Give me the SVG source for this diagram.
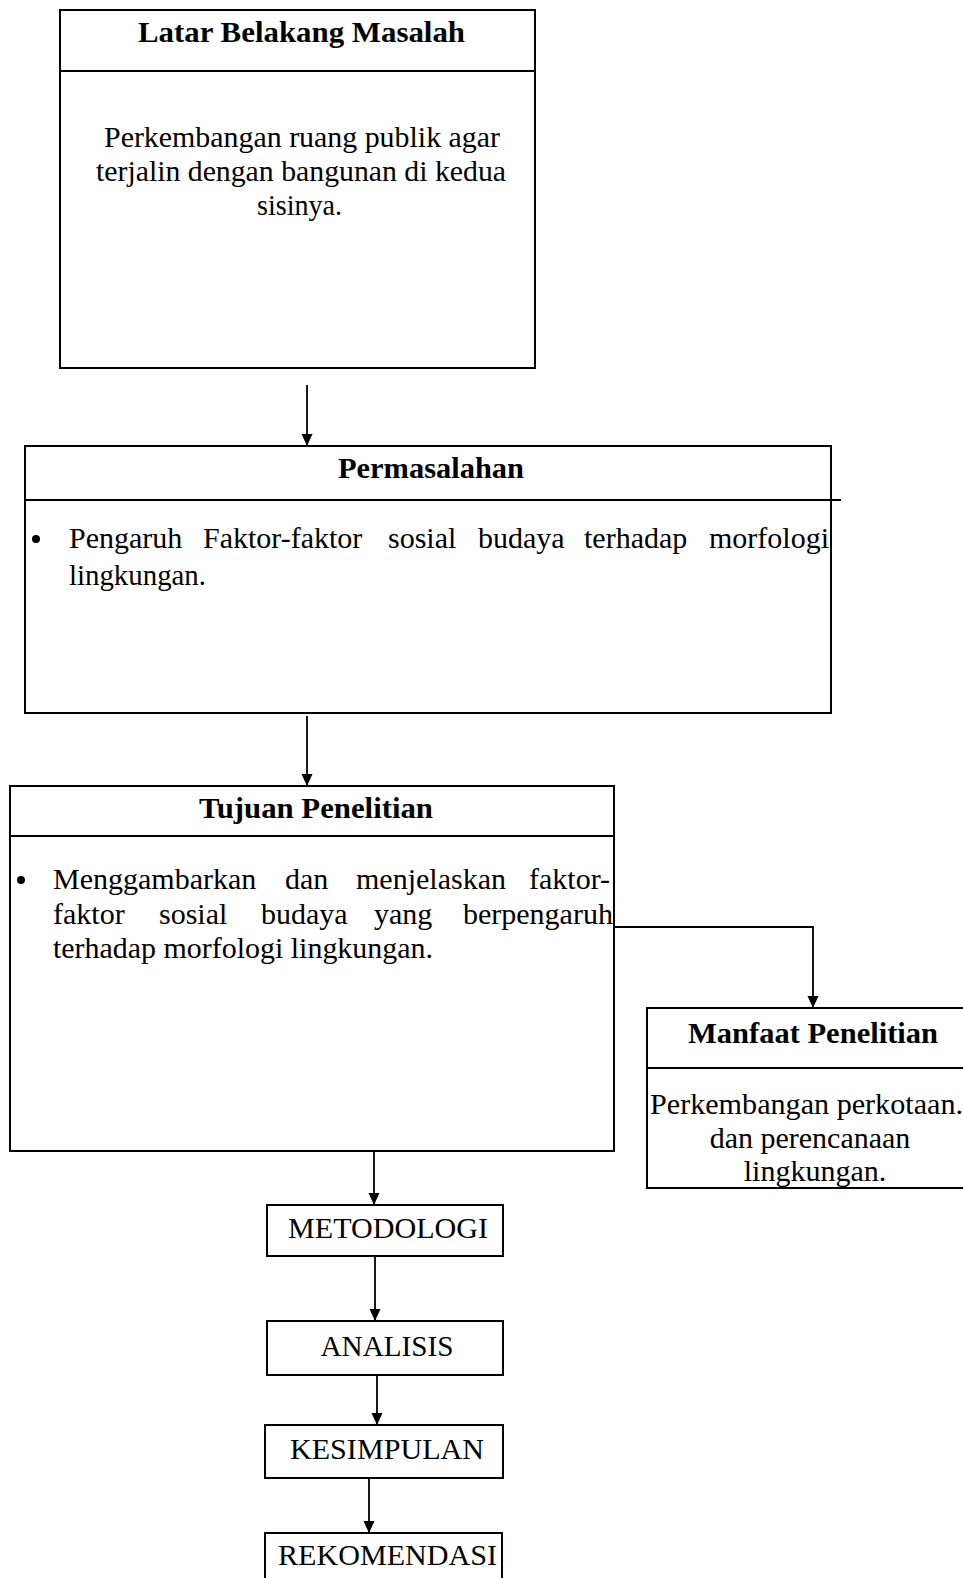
<svg xmlns="http://www.w3.org/2000/svg" width="963" height="1578" viewBox="0 0 963 1578">
<style>
.box{fill:none;stroke:#000;stroke-width:2}
.ln{fill:none;stroke:#000;stroke-width:2}
.cn{fill:none;stroke:#000;stroke-width:1.8}
.t{font-family:"Liberation Serif","Times New Roman",serif;font-size:30px;fill:#000}
.h{font-weight:bold;font-size:29px}
.m{text-anchor:middle}
</style>
<defs>
<marker id="ah" markerUnits="userSpaceOnUse" markerWidth="13" markerHeight="12" refX="12" refY="5.5" orient="auto">
<path d="M0,0 L12,5.5 L0,11 z" fill="#000"/>
</marker>
</defs>
<rect width="963" height="1578" fill="#fff"/>
<g id="connectors">
<path class="cn" d="M307,385 V446" marker-end="url(#ah)"/>
<path class="cn" d="M307,716 V786" marker-end="url(#ah)"/>
<path class="cn" d="M614,927 H813 V1008" marker-end="url(#ah)"/>
<path class="cn" d="M374,1151 V1205" marker-end="url(#ah)"/>
<path class="cn" d="M375,1256 V1321" marker-end="url(#ah)"/>
<path class="cn" d="M377,1375 V1425" marker-end="url(#ah)"/>
<path class="cn" d="M369,1478 V1533" marker-end="url(#ah)"/>
</g>
<g id="latar">
<rect class="box" x="60" y="10" width="475" height="358"/>
<line class="ln" x1="60" y1="71" x2="535" y2="71"/>
<text class="t h m" x="301.5" y="42" textLength="327" lengthAdjust="spacingAndGlyphs">Latar Belakang Masalah</text>
<text class="t m" x="302" y="147" textLength="396" lengthAdjust="spacingAndGlyphs">Perkembangan ruang publik agar</text>
<text class="t m" x="301" y="181" textLength="410" lengthAdjust="spacingAndGlyphs">terjalin dengan bangunan di kedua</text>
<text class="t m" x="299.5" y="215" textLength="85" lengthAdjust="spacingAndGlyphs">sisinya.</text>
</g>
<g id="permasalahan">
<rect class="box" x="25" y="446" width="806" height="267"/>
<line class="ln" x1="25" y1="500" x2="841" y2="500"/>
<text class="t h m" x="431" y="478" textLength="186" lengthAdjust="spacingAndGlyphs">Permasalahan</text>
<circle cx="36" cy="539" r="4" fill="#000"/>
<text class="t" y="548"><tspan x="69">Pengaruh</tspan><tspan x="203">Faktor-faktor</tspan><tspan x="388">sosial</tspan><tspan x="478">budaya</tspan><tspan x="584">terhadap</tspan><tspan x="709">morfologi</tspan></text>
<text class="t" x="69" y="585" textLength="137" lengthAdjust="spacingAndGlyphs">lingkungan.</text>
</g>
<g id="tujuan">
<rect class="box" x="10" y="786" width="604" height="365"/>
<line class="ln" x1="10" y1="836" x2="614" y2="836"/>
<text class="t h m" x="316" y="818" textLength="234" lengthAdjust="spacingAndGlyphs">Tujuan Penelitian</text>
<circle cx="21" cy="880" r="4" fill="#000"/>
<text class="t" y="889"><tspan x="53">Menggambarkan</tspan><tspan x="285">dan</tspan><tspan x="356">menjelaskan</tspan><tspan x="529">faktor-</tspan></text>
<text class="t" y="924"><tspan x="53">faktor</tspan><tspan x="159">sosial</tspan><tspan x="261">budaya</tspan><tspan x="374">yang</tspan><tspan x="463">berpengaruh</tspan></text>
<text class="t" x="53" y="958" textLength="380" lengthAdjust="spacingAndGlyphs">terhadap morfologi lingkungan.</text>
</g>
<g id="manfaat">
<rect class="box" x="647" y="1008" width="330" height="180"/>
<line class="ln" x1="647" y1="1068" x2="963" y2="1068"/>
<text class="t h m" x="813" y="1043" textLength="250" lengthAdjust="spacingAndGlyphs">Manfaat Penelitian</text>
<text class="t" x="650" y="1114" textLength="313" lengthAdjust="spacingAndGlyphs">Perkembangan perkotaan.</text>
<text class="t m" x="810" y="1148">dan perencanaan</text>
<text class="t m" x="815" y="1181">lingkungan.</text>
</g>
<g id="metodologi">
<rect class="box" x="267" y="1205" width="236" height="51"/>
<text class="t m" x="388" y="1238" textLength="200" lengthAdjust="spacingAndGlyphs">METODOLOGI</text>
</g>
<g id="analisis">
<rect class="box" x="267" y="1321" width="236" height="54"/>
<text class="t m" x="387" y="1356" textLength="133" lengthAdjust="spacingAndGlyphs">ANALISIS</text>
</g>
<g id="kesimpulan">
<rect class="box" x="265" y="1425" width="238" height="53"/>
<text class="t m" x="387" y="1459" textLength="194" lengthAdjust="spacingAndGlyphs">KESIMPULAN</text>
</g>
<g id="rekomendasi">
<rect class="box" x="265" y="1533" width="237" height="60"/>
<text class="t m" x="387.5" y="1565" textLength="219" lengthAdjust="spacingAndGlyphs">REKOMENDASI</text>
</g>
</svg>
